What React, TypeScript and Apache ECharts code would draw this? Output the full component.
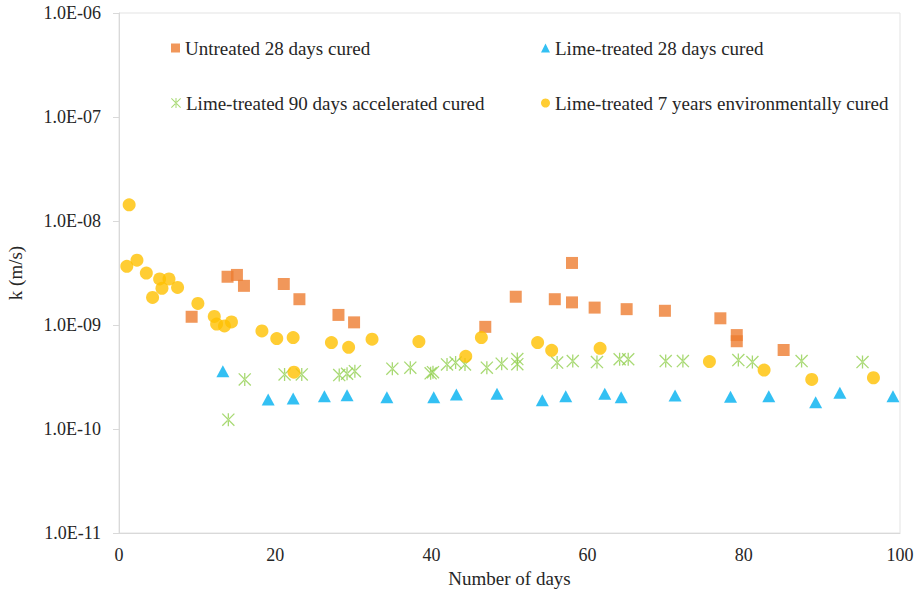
import React, { useEffect, useRef } from "react";
import * as echarts from "echarts";

const xTicks = [0, 20, 40, 60, 80, 100];
const yTickLabels = ["1.0E-11", "1.0E-10", "1.0E-09", "1.0E-08", "1.0E-07", "1.0E-06"];

const seriesNames = [
  "Untreated 28 days cured",
  "Lime-treated 28 days cured",
  "Lime-treated 90 days accelerated cured",
  "Lime-treated 7 years environmentally cured",
];

const untreatedX = [9.3, 13.9, 15.1, 16.0, 21.1, 23.1, 28.1, 30.1, 46.9, 50.8, 55.8, 58.0, 58.0, 60.9, 65.0, 69.9, 77.0, 79.1, 79.1, 85.1];
const untreatedK = [1.2e-9, 2.91e-9, 3.03e-9, 2.38e-9, 2.48e-9, 1.77e-9, 1.25e-9, 1.06e-9, 9.6e-10, 1.87e-9, 1.77e-9, 3.95e-9, 1.65e-9, 1.47e-9, 1.42e-9, 1.37e-9, 1.16e-9, 8.0e-10, 6.98e-10, 5.75e-10];

const lime28X = [13.3, 19.1, 22.3, 26.3, 29.2, 34.3, 40.3, 43.2, 48.4, 54.2, 57.2, 62.2, 64.3, 71.2, 78.3, 83.2, 89.2, 92.3, 99.1];
const lime28K = [3.6e-10, 1.92e-10, 1.96e-10, 2.07e-10, 2.11e-10, 2.02e-10, 2.02e-10, 2.15e-10, 2.18e-10, 1.89e-10, 2.07e-10, 2.18e-10, 2.02e-10, 2.1e-10, 2.04e-10, 2.07e-10, 1.81e-10, 2.23e-10, 2.07e-10];

const lime90X = [14.0, 16.1, 21.2, 23.4, 28.2, 29.2, 30.2, 35.0, 37.3, 39.9, 40.2, 42.0, 43.1, 44.3, 47.1, 49.0, 51.0, 51.0, 56.1, 58.1, 61.2, 64.1, 65.2, 70.0, 72.2, 79.3, 81.1, 87.4, 95.2];
const lime90K = [1.23e-10, 3.0e-10, 3.35e-10, 3.35e-10, 3.3e-10, 3.4e-10, 3.6e-10, 3.8e-10, 3.89e-10, 3.43e-10, 3.52e-10, 4.18e-10, 4.35e-10, 4.18e-10, 3.89e-10, 4.25e-10, 4.7e-10, 4.2e-10, 4.35e-10, 4.5e-10, 4.4e-10, 4.68e-10, 4.68e-10, 4.5e-10, 4.5e-10, 4.6e-10, 4.4e-10, 4.5e-10, 4.4e-10];

const lime7yX = [1.0, 1.3, 2.3, 3.5, 4.3, 5.2, 5.5, 6.4, 7.5, 10.1, 12.2, 12.5, 13.5, 14.4, 18.3, 20.2, 22.3, 22.4, 27.2, 29.4, 32.4, 38.4, 44.4, 46.4, 53.6, 55.4, 61.6, 75.6, 82.6, 88.7, 96.6];
const lime7yK = [3.67e-9, 1.43e-8, 4.2e-9, 3.16e-9, 1.84e-9, 2.77e-9, 2.25e-9, 2.77e-9, 2.3e-9, 1.61e-9, 1.21e-9, 1.02e-9, 9.8e-10, 1.07e-9, 8.77e-10, 7.41e-10, 7.57e-10, 3.52e-10, 6.78e-10, 6.1e-10, 7.3e-10, 6.93e-10, 5.0e-10, 7.57e-10, 6.78e-10, 5.71e-10, 5.97e-10, 4.45e-10, 3.69e-10, 3.0e-10, 3.11e-10];

const colors = ["#ED7D31", "#00B0F0", "#92D050", "#FFC000"];

const starPath =
  "path://M5.4,0L6.6,0L6.6,12L5.4,12Z M0,0.85L0.85,0L12,11.15L11.15,12Z M12,0.85L11.15,0L0,11.15L0.85,12Z";

const FONT = "'Liberation Serif', 'Times New Roman', serif";
const TEXT_COLOR = "#262626";

function zip(xs: number[], ys: number[]) {
  return xs.map((x, i) => [x, ys[i]]);
}

function fmtExp(v: number) {
  const e = Math.round(Math.log10(v));
  const idx = e + 11;
  if (idx >= 0 && idx < yTickLabels.length) return yTickLabels[idx];
  return "";
}

export default function App() {
  const ref = useRef<HTMLDivElement>(null);
  useEffect(() => {
    if (!ref.current) return;
    const chart = echarts.init(ref.current, undefined, { renderer: "svg" });
    const legendBase = (name: string, left: number, top: number, icon: string, color: string, w = 9, h = 9) => ({
      show: true,
      left,
      top,
      padding: 0,
      itemWidth: w,
      itemHeight: h,
      icon,
      data: [{ name, icon, itemStyle: { color } }],
      textStyle: { fontFamily: FONT, fontSize: 19, color: TEXT_COLOR, lineHeight: 20 },
      selectedMode: false,
    });
    chart.setOption({
      animation: false,
      backgroundColor: "#fff",
      textStyle: { fontFamily: FONT },
      grid: {
        left: 119,
        right: 16,
        top: 13,
        bottom: 61,
        containLabel: false,
        outerBoundsMode: "none",
        show: true,
        borderColor: "#e3e3e3",
        borderWidth: 1,
      },
      legend: [
        legendBase(seriesNames[0], 171, 38, "rect", colors[0]),
        legendBase(seriesNames[1], 541, 38, "triangle", colors[1], 9, 9),
        legendBase(seriesNames[2], 171, 93, starPath, colors[2], 10, 10),
        legendBase(seriesNames[3], 541, 93, "circle", colors[3], 9, 9),
      ],
      xAxis: {
        type: "value",
        min: 0,
        max: 100,
        interval: 20,
        name: "Number of days",
        nameLocation: "middle",
        nameGap: 35,
        nameTextStyle: { fontFamily: FONT, fontSize: 19, color: TEXT_COLOR },
        axisLine: { show: true, lineStyle: { color: "#d9d9d9" } },
        axisTick: { show: false },
        splitLine: { show: false },
        axisLabel: {
          fontFamily: FONT,
          fontSize: 18,
          color: TEXT_COLOR,
          margin: 13,
          formatter: (v: number) => (xTicks.includes(v) ? String(v) : ""),
        },
      },
      yAxis: {
        type: "log",
        logBase: 10,
        min: 1e-11,
        max: 1e-6,
        name: "k (m/s)",
        nameLocation: "middle",
        nameGap: 94,
        nameRotate: 90,
        nameTextStyle: { fontFamily: FONT, fontSize: 19, color: TEXT_COLOR },
        axisLine: { show: true, lineStyle: { color: "#d9d9d9" } },
        axisTick: { show: true, inside: false, length: 6, lineStyle: { color: "#d9d9d9" } },
        splitLine: { show: false },
        minorTick: { show: false },
        axisLabel: {
          fontFamily: FONT,
          fontSize: 18,
          color: TEXT_COLOR,
          margin: 18,
          formatter: (v: number) => fmtExp(v),
        },
      },
      series: [
        {
          name: seriesNames[0],
          type: "scatter",
          symbol: "rect",
          symbolSize: 12,
          itemStyle: { color: colors[0] },
          data: zip(untreatedX, untreatedK),
        },
        {
          name: seriesNames[1],
          type: "scatter",
          symbol: "triangle",
          symbolSize: [13, 12],
          itemStyle: { color: colors[1] },
          data: zip(lime28X, lime28K),
        },
        {
          name: seriesNames[2],
          type: "scatter",
          symbol: starPath,
          symbolSize: 13,
          itemStyle: { color: colors[2] },
          data: zip(lime90X, lime90K),
        },
        {
          name: seriesNames[3],
          type: "scatter",
          symbol: "circle",
          symbolSize: 13,
          itemStyle: { color: colors[3] },
          data: zip(lime7yX, lime7yK),
        },
      ],
    });
    return () => chart.dispose();
  }, []);
  return (
    <div
      ref={ref}
      style={{ position: "absolute", left: 0, top: 0, width: 916, height: 594 }}
    />
  );
}
